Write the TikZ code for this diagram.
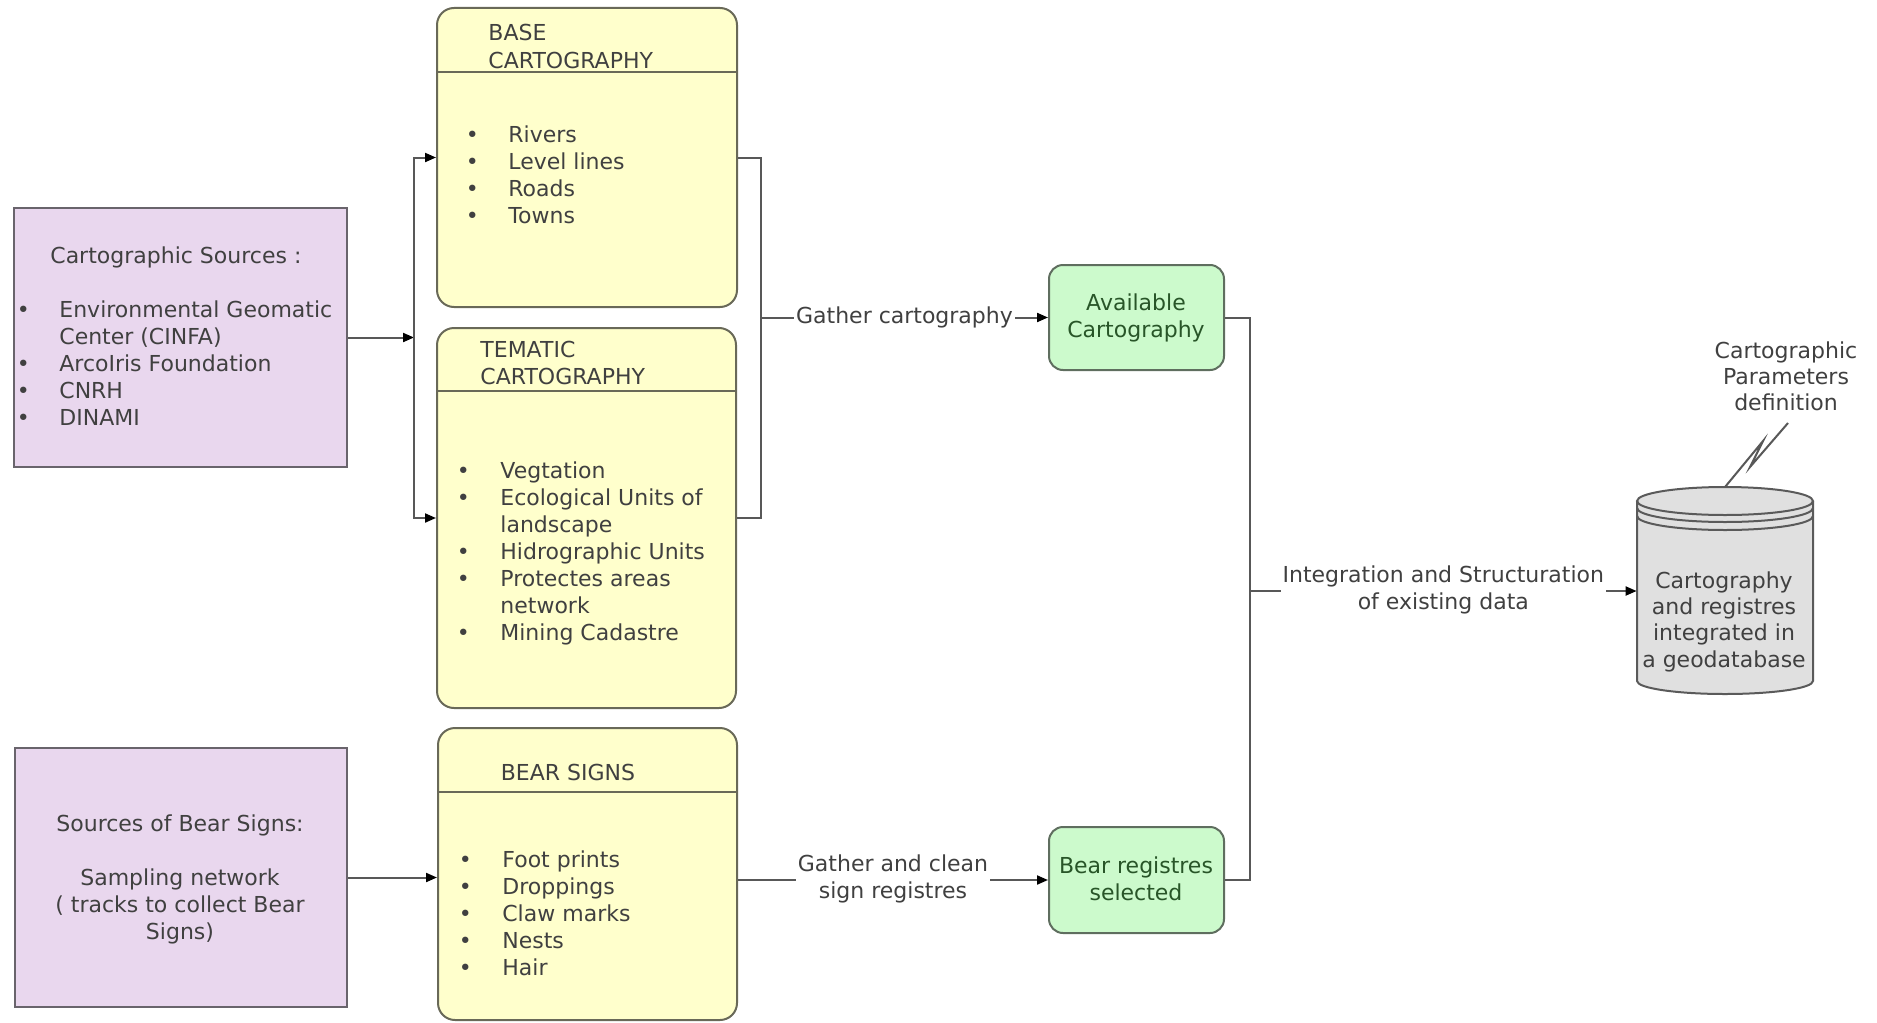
\documentclass[tikz,border=0pt]{standalone}
\usepackage{fontspec}
\setmainfont{DejaVu Sans}
\usetikzlibrary{arrows.meta}
\definecolor{ink}{RGB}{64,64,64}
\definecolor{lineclr}{RGB}{88,88,88}
\definecolor{srcfill}{RGB}{233,215,238}
\definecolor{srcdraw}{RGB}{105,100,108}
\definecolor{layerfill}{RGB}{255,255,204}
\definecolor{layerdraw}{RGB}{105,105,88}
\definecolor{resfill}{RGB}{204,250,204}
\definecolor{resdraw}{RGB}{95,110,95}
\definecolor{restext}{RGB}{40,85,40}
\definecolor{dbfill}{RGB}{224,224,224}
\definecolor{dbdraw}{RGB}{90,90,90}
\newcommand\lstbullet{\makebox[5pt]{\textbullet}}
\begin{document}
\begin{tikzpicture}[x=0.5pt,y=-0.5pt,
  font=\fontsize{11pt}{13.5pt}\selectfont, text=ink,
  box/.style={inner sep=0, line width=1pt},
  srcbox/.style={box, draw=srcdraw, fill=srcfill},
  layerbox/.style={box, draw=layerdraw, fill=layerfill, rounded corners=8.5pt},
  resbox/.style={box, draw=resdraw, fill=resfill, rounded corners=7pt},
  txt/.style={inner sep=0, anchor=base},
  txtl/.style={inner sep=0, anchor=base west},
  link/.style={draw=lineclr, line width=1pt},
  arr/.style={link, -{Triangle[length=5.5pt,width=4.5pt,color=black]}},
  lab/.style={fill=white, inner sep=1pt},
  header/.style={draw=layerdraw, line width=1pt},
]
\useasboundingbox (0,0) rectangle (1877,1022);

% ---------- boxes ----------
\node[srcbox, minimum width=166.5pt, minimum height=129.5pt] (cartsrc) at (180.5,337.5) {};
\node[srcbox, minimum width=166pt, minimum height=129.5pt] (bearsrc) at (181,877.5) {};
\node[layerbox, minimum width=150pt, minimum height=149.5pt] (base) at (587,157.5) {};
\node[layerbox, minimum width=149.5pt, minimum height=190pt] (tema) at (586.5,518) {};
\node[layerbox, minimum width=149.5pt, minimum height=146pt] (bear) at (587.5,874) {};
\node[resbox, minimum width=87.5pt, minimum height=52.5pt] (avail) at (1136.5,317.5) {};
\node[resbox, minimum width=87.5pt, minimum height=53pt] (bearreg) at (1136.5,880) {};

% header separators of the layer boxes
\draw[header] (base.west |- 0,72) -- (base.east |- 0,72);
\draw[header] (tema.west |- 0,391) -- (tema.east |- 0,391);
\draw[header] (bear.west |- 0,792) -- (bear.east |- 0,792);

% ---------- geodatabase cylinder ----------
\fill[dbfill] (1637,501) -- (1637,681)
  arc[start angle=180, end angle=360, x radius=44pt, y radius=6.5pt]
  -- (1813,501)
  arc[start angle=0, end angle=180, x radius=44pt, y radius=7pt] -- cycle;
\draw[dbdraw, line width=1pt] (1637,501) -- (1637,681)
  arc[start angle=180, end angle=360, x radius=44pt, y radius=6.5pt]
  -- (1813,501);
\draw[dbdraw, line width=1pt] (1725,501) ellipse [x radius=44pt, y radius=7pt];
\draw[dbdraw, line width=1pt] (1637,508) arc[start angle=180, end angle=360, x radius=44pt, y radius=7pt];
\draw[dbdraw, line width=1pt] (1637,516) arc[start angle=180, end angle=360, x radius=44pt, y radius=7pt];
\node[inner sep=0, minimum width=88pt, minimum height=90pt] (dbbody) at (1725,591) {};

% ---------- texts ----------
\node[txtl] (cartsrctitle) at (50,263) {Cartographic Sources :};
\node[txtl] (cartsrclist) at (18,317) {\begin{tabular}[t]{@{}l@{\hspace{15.5pt}}l@{}}
  \lstbullet & Environmental Geomatic\\
             & Center (CINFA)\\
  \lstbullet & ArcoIris Foundation\\
  \lstbullet & CNRH\\
  \lstbullet & DINAMI\end{tabular}};

\node[txt] (bearsrctext) at (180,831) {\begin{tabular}[t]{@{}c@{}}
  Sources of Bear Signs:\\ \\
  Sampling network\\
  ( tracks to collect Bear\\
  Signs)\end{tabular}};

\node[txtl] (basetitle) at (488,41) {\begin{tabular}[t]{@{}l@{}}BASE\\CARTOGRAPHY\end{tabular}};
\node[txtl] (baselist) at (467,142) {\begin{tabular}[t]{@{}l@{\hspace{15.5pt}}l@{}}
  \lstbullet & Rivers\\
  \lstbullet & Level lines\\
  \lstbullet & Roads\\
  \lstbullet & Towns\end{tabular}};

\node[txtl] (tematitle) at (480,357) {\begin{tabular}[t]{@{}l@{}}TEMATIC\\CARTOGRAPHY\end{tabular}};
\node[txtl] (temalist) at (458,478) {\begin{tabular}[t]{@{}l@{\hspace{16pt}}l@{}}
  \lstbullet & Vegtation\\
  \lstbullet & Ecological Units of\\
             & landscape\\
  \lstbullet & Hidrographic Units\\
  \lstbullet & Protectes areas\\
             & network\\
  \lstbullet & Mining Cadastre\end{tabular}};

\node[txt] (beartitle) at (568,780) {BEAR SIGNS};
\node[txtl] (bearlist) at (460,867) {\begin{tabular}[t]{@{}l@{\hspace{16pt}}l@{}}
  \lstbullet & Foot prints\\
  \lstbullet & Droppings\\
  \lstbullet & Claw marks\\
  \lstbullet & Nests\\
  \lstbullet & Hair\end{tabular}};

\node[txt, text=restext] (availtext) at (1136,310) {\begin{tabular}[t]{@{}c@{}}Available\\Cartography\end{tabular}};
\node[txt, text=restext] (bearregtext) at (1136,873) {\begin{tabular}[t]{@{}c@{}}Bear registres\\selected\end{tabular}};

\node[txt, font=\fontsize{11pt}{13.2pt}\selectfont] (dbtext) at (1724,588) {\begin{tabular}[t]{@{}c@{}}Cartography\\and registres\\integrated in\\a geodatabase\end{tabular}};
\node[txt, font=\fontsize{11pt}{13pt}\selectfont] (params) at (1786,358) {\begin{tabular}[t]{@{}c@{}}Cartographic\\Parameters\\definition\end{tabular}};

% ---------- connectors ----------
\coordinate (split) at (414,337.5);
\draw[arr] (cartsrc.east) -- (split);
\draw[arr] (split) |- (base.west);
\draw[arr] (split) |- (tema.west);

\coordinate (gather) at (761,317.5);
\draw[link] (base.east) -| (gather);
\draw[link] (tema.east) -| (gather);
\draw[arr] (gather) -- node[lab] (gcl) {Gather cartography} (avail.west);

\draw[arr] (bearsrc.east) -- (bearsrc.east -| bear.west);
\draw[arr] (bear.east |- bearreg.west) -- node[lab] (gcr)
  {\begin{tabular}[t]{@{}c@{}}Gather and clean\\sign registres\end{tabular}} (bearreg.west);

\coordinate (merge) at (1250,591);
\draw[link] (avail.east) -| (merge);
\draw[link] (bearreg.east) -| (merge);
\draw[arr] (merge) -- node[lab] (isd)
  {\begin{tabular}[t]{@{}c@{}}Integration and Structuration\\of existing data\end{tabular}} (dbbody.west);

% annotation bolt from the cylinder to its note
\coordinate (bolt0) at (1725,487);
\coordinate (bolt3) at (1788,423);
\draw[link] (bolt0) -- (1763,441) -- (1750,467) -- (bolt3);
\end{tikzpicture}
\end{document}
